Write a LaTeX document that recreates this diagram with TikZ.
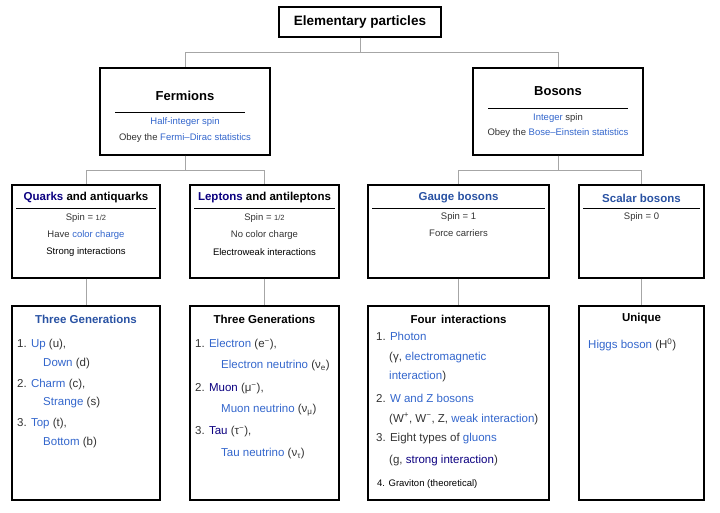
\documentclass[tikz,border=0pt]{standalone}
\usepackage{fontspec}
\setmainfont{Liberation Sans}
\definecolor{wlink}{HTML}{3366CC}
\definecolor{wvisit}{HTML}{0B0080}
\definecolor{wgray}{HTML}{333333}
\usetikzlibrary{positioning}
\newcommand{\lk}[1]{\textcolor{wlink}{#1}}
\newcommand{\vk}[1]{\textcolor{wvisit}{#1}}

\begin{document}
\begin{tikzpicture}[x=1pt, y=-1pt,
      box/.style={draw, line width=1.4pt, inner sep=0pt},
      link/.style={draw=gray!70, line width=0.9pt},
      head/.style={font=\fontsize{11.5}{13}\selectfont\bfseries},
      small/.style={font=\fontsize{9.5}{11}\selectfont, text=wgray},
      item/.style={font=\fontsize{11.5}{13}\selectfont, text=wgray, anchor=west, inner sep=0pt}
    ]
      \useasboundingbox (0,0) rectangle (720,512);
      % boxes
      \node[box, minimum width=162pt, minimum height=30pt] (top) at (360,22) {};
      \node[box, minimum width=170pt, minimum height=87pt] (ferm) at (185,111.5) {};
      \node[box, minimum width=170pt, minimum height=87pt] (bos) at (558,111.5) {};
      \node[box, minimum width=148pt, minimum height=93pt] (quark) at (86,231.5) {};
      \node[box, minimum width=149pt, minimum height=93pt] (lept) at (264.5,231.5) {};
      \node[box, minimum width=181pt, minimum height=93pt] (gauge) at (458.5,231.5) {};
      \node[box, minimum width=125pt, minimum height=93pt] (scal) at (641.5,231.5) {};
      \node[box, minimum width=148pt, minimum height=194pt] (qgen) at (86,403) {};
      \node[box, minimum width=149pt, minimum height=194pt] (lgen) at (264.5,403) {};
      \node[box, minimum width=181pt, minimum height=194pt] (gint) at (458.5,403) {};
      \node[box, minimum width=125pt, minimum height=194pt] (uniq) at (641.5,403) {};

      % connectors
      \draw[link] (top.south) -- ++(0,15) -| (ferm.north);
      \draw[link] (top.south) -- ++(0,15) -| (bos.north);
      \draw[link] (ferm.south) -- ++(0,15) -| (quark.north);
      \draw[link] (ferm.south) -- ++(0,15) -| (lept.north);
      \draw[link] (bos.south) -- ++(0,15) -| (gauge.north);
      \draw[link] (bos.south) -- ++(0,15) -| (scal.north);
      \draw[link] (quark) -- (qgen);
      \draw[link] (lept) -- (lgen);
      \draw[link] (gauge) -- (gint);
      \draw[link] (scal) -- (uniq);

      % top level
      \node[font=\fontsize{13.5}{15}\selectfont\bfseries] (ttl) at (top) {Elementary particles};
      \node[head, font=\fontsize{13}{15}\selectfont\bfseries] (ft) at (185,96) {Fermions};
      \draw (115,112) -- (245,112);
      \node[small, text=wlink] (f1) at (185,122) {Half-integer spin};
      \node[small] (f2) at (185,138) {Obey the \lk{Fermi–Dirac statistics}};
      \node[head, font=\fontsize{13}{15}\selectfont\bfseries] (bt) at (558,91) {Bosons};
      \draw (488,108) -- (628,108);
      \node[small] (b1) at (558,118) {\lk{Integer} spin};
      \node[small] (b2) at (558,133) {Obey the \lk{Bose–Einstein statistics}};

      % second level
      \node[head] (qt) at (86,198) {\vk{Quarks} and antiquarks};
      \draw (16,208) -- (156,208);
      \node[small] (q1) at (86,218) {Spin = {\fontsize{7.5}{8}\selectfont 1/2}};
      \node[small] (q2) at (86,235) {Have \lk{color charge}};
      \node[small, text=black] (q3) at (86,252) {Strong interactions};
      \node[head] (lt) at (264.5,198) {\vk{Leptons} and antileptons};
      \draw (194,208) -- (335,208);
      \node[small] (l1) at (264.5,218) {Spin = {\fontsize{7.5}{8}\selectfont 1/2}};
      \node[small] (l2) at (264.5,235) {No color charge};
      \node[small, text=black] (l3) at (264.5,252) {Electroweak interactions};
      \node[head, text=wlink!80!black] (gt) at (458.5,198) {Gauge bosons};
      \draw (372,208) -- (545,208);
      \node[small] (g1) at (458.5,217) {Spin = 1};
      \node[small] (g2) at (458.5,233) {Force carriers};
      \node[head, text=wlink!80!black] (st) at (641.5,198) {Scalar bosons};
      \draw (583,208) -- (700,208);
      \node[small] (s1) at (641.5,217) {Spin = 0};

      % bottom level
      \node[head, text=wlink!80!black] (qg) at (86,319) {Three Generations};
      \node[item] (qa) at (17,345) {1. \lk{Up} (u),};
      \node[item] (qb) at (43,364) {\lk{Down} (d)};
      \node[item] (qc) at (17,385) {2. \lk{Charm} (c),};
      \node[item] (qd) at (43,403) {\lk{Strange} (s)};
      \node[item] (qe) at (17,424) {3. \lk{Top} (t),};
      \node[item] (qf) at (43,443) {\lk{Bottom} (b)};

      \node[head] (lg) at (264.5,319) {Three Generations};
      \node[item] (la) at (195,345) {1. \lk{Electron} (e\textsuperscript{−}),};
      \node[item] (lb) at (221,366) {\lk{Electron neutrino} (ν\textsubscript{e})};
      \node[item] (lc) at (195,389) {2. \vk{Muon} (μ\textsuperscript{−}),};
      \node[item] (ld) at (221,410) {\lk{Muon neutrino} (ν\textsubscript{μ})};
      \node[item] (le) at (195,432) {3. \vk{Tau} (τ\textsuperscript{−}),};
      \node[item] (lf) at (221,454) {\lk{Tau neutrino} (ν\textsubscript{τ})};

      \node[head] (gi) at (458.5,319) {Four\, interactions};
      \node[item] (ga) at (376,336) {1. \lk{Photon}};
      \node[item] (gb) at (389,358) {(γ, \lk{electromagnetic}};
      \node[item] (gc) at (389,377) {\lk{interaction})};
      \node[item] (gd) at (376,398) {2. \lk{W and Z bosons}};
      \node[item] (ge) at (389,419) {(W\textsuperscript{+}, W\textsuperscript{−}, Z, \lk{weak interaction})};
      \node[item] (gf) at (376,439) {3. Eight types of \lk{gluons}};
      \node[item] (gg) at (389,461) {(g, \vk{strong interaction})};
      \node[item, font=\fontsize{9.5}{11}\selectfont, text=black] (gh) at (377,484) {4. Graviton (theoretical)};

      \node[head] (un) at (641.5,319) {Unique};
      \node[item] (ua) at (588,345) {\lk{Higgs boson} (H\textsuperscript{0})};
    \end{tikzpicture}
\end{document}
